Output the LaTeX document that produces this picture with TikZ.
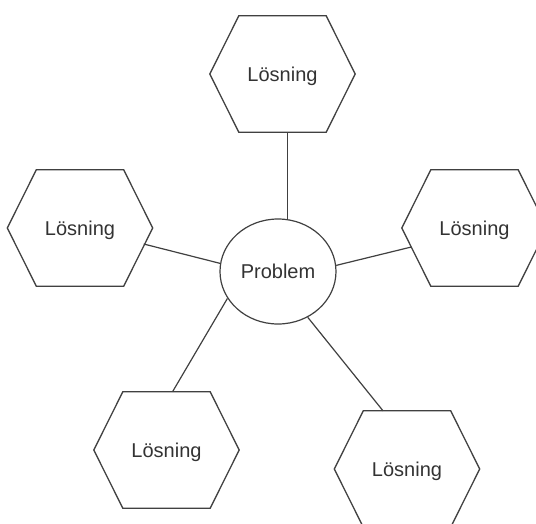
\documentclass[tikz,border=0pt]{standalone}
\usepackage{fontspec}
\setmainfont{Liberation Sans}
\usetikzlibrary{shapes.geometric}
\begin{document}
\begin{tikzpicture}[x=1pt,y=-1pt,
  font=\fontsize{20}{24}\selectfont,
  hexbox/.style={minimum width=145pt, minimum height=116pt, inner sep=0pt,
    text depth=0pt, text=black!80},
  probnode/.style={ellipse, draw=black!75, line width=1.2pt, fill=white,
    minimum width=116pt, minimum height=105pt, inner sep=0pt, text=black!80},
  link/.style={draw=black!75, line width=1.2pt},
  outline/.style={draw=black!75, line width=1.3pt, line join=miter}]
  \fill[white] (0,0) rectangle (536,523);
  \useasboundingbox (0,0) rectangle (536,523);
  \clip (0,0) rectangle (536,523);

  % centre and the five solutions around it
  \node[probnode] (c) at (278,271.5) {Problem};
  \node[hexbox] (hT) at (282.5,74) {Lösning};
  \node[hexbox] (hL) at (80,228) {Lösning};
  \node[hexbox] (hR) at (474.5,228) {Lösning};
  \node[hexbox] (hBL) at (166.5,450) {Lösning};
  \node[hexbox] (hBR) at (407,469) {Lösning};

  % hexagon outlines around the solution nodes
  \foreach \h in {hT,hL,hR,hBL,hBR}
    \draw[outline] (\h.west) -- ([xshift=29pt]\h.north west)
      -- ([xshift=-29pt]\h.north east) -- (\h.east)
      -- ([xshift=-29pt]\h.south east) -- ([xshift=29pt]\h.south west) -- cycle;

  % connectors
  \draw[link] (hT.south -| c.80) -- (c.80);
  \draw[link] ([shift={(-9,16)}]hL.east) -- (c.172);
  \draw[link] (c.6) -- ([shift={(9.5,19)}]hR.west);
  \draw[link] (c.208) -- ([xshift=6pt]hBL.north);
  \draw[link] (c.-57.5) -- ([xshift=-24pt]hBR.north);
\end{tikzpicture}
\end{document}
